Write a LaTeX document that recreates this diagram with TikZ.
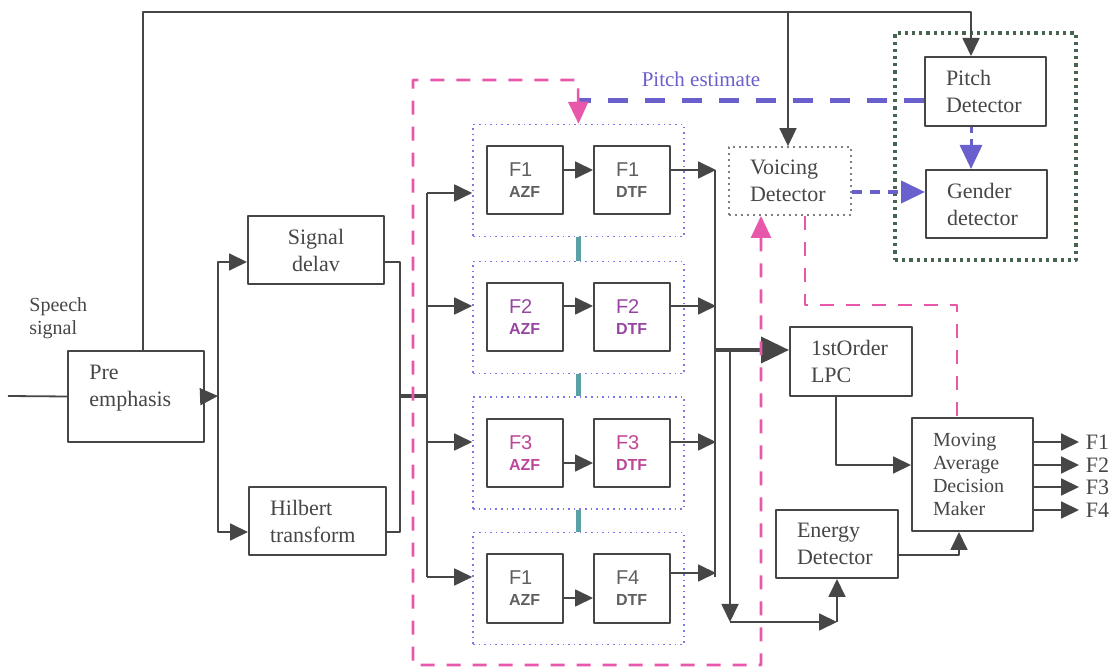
\documentclass[tikz,border=0pt]{standalone}
\usepackage{fontspec}
\setmainfont{Liberation Serif}
\setsansfont{Liberation Sans}
\usetikzlibrary{arrows.meta}
\definecolor{inkgray}{RGB}{70,70,70}
\definecolor{labgray}{RGB}{95,95,95}
\definecolor{pitchblue}{RGB}{105,95,205}
\definecolor{dotblue}{RGB}{120,120,235}
\definecolor{pinkdash}{RGB}{232,88,170}
\definecolor{tealbar}{RGB}{90,160,165}
\definecolor{boxgreen}{RGB}{70,100,80}
\definecolor{fpurple}{RGB}{150,70,160}
\definecolor{fpink}{RGB}{190,70,150}
\tikzset{
    flow/.style={-{Triangle[length=9pt,width=8.5pt]}},
    bigflow/.style={-{Triangle[length=14pt,width=13pt]}},
    wire/.style={draw=inkgray, line width=0.9pt}
}

\begin{document}
\begin{tikzpicture}[
        x=0.5pt, y=-0.5pt, line join=round,
        box/.style 2 args={draw=inkgray, line width=1pt, text width=#1, minimum height=#2,
            inner xsep=10.5pt, inner ysep=0pt, align=left, text=inkgray,
            font=\fontsize{11}{13.5}\selectfont},
        filt/.style={draw=inkgray, line width=1pt, text width=16pt, minimum height=34pt,
            inner xsep=11pt, inner ysep=0pt, align=left, font=\sffamily\fontsize{10}{10.5}\selectfont},
        band/.style={draw=dotblue, dotted, line width=0.8pt, minimum width=105.5pt,
            minimum height=56pt, inner sep=0pt},
        pitchline/.style={draw=pitchblue, line width=2.5pt, dash pattern=on 10pt off 8.5pt},
        pinkline/.style={draw=pinkdash, line width=1.3pt, dash pattern=on 7pt off 6pt},
        bluetip/.style={-{Triangle[length=12pt,width=11pt]}},
        pinktip/.style={{Triangle[length=11pt,width=10pt]}-{Triangle[length=11pt,width=10pt]}}
    ]
    \useasboundingbox (0,0) rectangle (1110,668);

    % input stage
    \node[anchor=west, inner sep=0pt, align=left, text=inkgray,
        font=\fontsize{10}{11.5}\selectfont] (speech) at (29,318) {Speech\\signal};
    \node[box={47pt}{45.5pt}] (pre) at (136,396.5) {};
    \node[anchor=west, inner sep=0pt, align=left, text=inkgray,
        font=\fontsize{11}{13.5}\selectfont] (pretxt) at (89,388) {Pre\\emphasis};
    \node[box={47pt}{34pt}, align=center] (sdel) at (316,250) {Signal\\delav};
    \node[box={47.5pt}{34pt}] (hilb) at (317.5,521) {Hilbert\\transform};

    \coordinate (inpt) at (8,396);
    \coordinate (fork) at (218,396);
    \coordinate (join) at (400,396);
    \coordinate (bus) at (428,396);
    \draw[wire] (inpt) -- (pre.west);
    \draw[wire, flow] (pre.east) -- (fork);
    \draw[wire, flow] (fork) |- ([yshift=-6pt]sdel.west);
    \draw[wire, flow] (fork) |- ([yshift=-5.5pt]hilb.west);
    \draw[wire] ([yshift=-6pt]sdel.east) -| (join);
    \draw[wire] ([yshift=-5.5pt]hilb.east) -| (join);
    \draw[wire, line width=2pt] (join) -- (bus);

    % filter bank
    \foreach \r/\yc/\na/\nd/\col/\sb/\sa/\so in {
            1/180.5/F1/F1/labgray/-6.25/5.25/5.25,
            2/317.5/F2/F2/fpurple/5.75/5.75/5.75,
            3/453/F3/F3/fpink/5.5/-5/5.5,
            4/588.5/F1/F4/labgray/5.75/-4.75/7.75} {
        \node[band] (band\r) at (578.5,\yc) {};
        \node[filt, text=\col] (azf\r) at (525,\yc) {\na\\{\fontsize{8}{9}\selectfont\bfseries AZF}};
        \node[filt, text=\col] (dtf\r) at (632,\yc) {\nd\\{\fontsize{8}{9}\selectfont\bfseries DTF}};
        \draw[wire, flow] ([yshift=\sb pt, xshift=-22.5pt]band\r.west) -- ([yshift=\sb pt]band\r.west);
        \draw[wire, flow] ([yshift=\sa pt]azf\r.east) -- ([yshift=\sa pt]dtf\r.west);
        \draw[wire, flow] ([yshift=\so pt]dtf\r.east) -- ++(45,0);
    }
    \draw[wire] ([yshift=-6.25pt, xshift=-22.5pt]band1.west) -- ([yshift=5.75pt, xshift=-22.5pt]band4.west);
    \foreach \a/\b in {1/2, 2/3, 3/4}
        \draw[tealbar, line width=2.5pt] (band\a.south) -- (band\b.north);

    % right part
    \node[box={40pt}{34pt}, draw=gray, dotted, line width=0.9pt] (voice) at (790,181) {Voicing\\Detector};
    \node[box={39.5pt}{34.5pt}] (pitch) at (985.5,91.5) {Pitch\\Detector};
    \node[box={39.5pt}{34pt}] (gend) at (986.5,204) {Gender\\detector};
    \node[draw=boxgreen, dotted, line width=1.6pt, minimum width=90.5pt, minimum height=113.5pt,
        inner sep=0pt] (gbox) at (985.5,146.5) {};
    \node[box={40pt}{34.5pt}] (lpc) at (851,361.5) {1stOrder\\LPC};
    \node[box={40pt}{34pt}] (energy) at (837,544) {Energy\\Detector};
    \node[box={39.5pt}{56.5pt}, font=\fontsize{10}{11.5}\selectfont] (mavg) at (972.5,474.5)
        {Moving\\Average\\Decision\\Maker};

    \coordinate (coltop) at (715,170);
    \coordinate (colbot) at (715,577);
    \coordinate (tap) at (715,350);
    \coordinate (drop) at (730,350);
    \coordinate (low) at (730,622);
    \coordinate (corner) at (837,622);
    \draw[wire] (coltop) -- (colbot);
    \draw[wire, line width=2pt, bigflow] (tap) -- ([yshift=5.75pt]lpc.west);
    \draw[wire, flow] (drop) -- (low);
    \draw[wire, flow] (low) -- (corner);
    \draw[wire, flow] (corner) -- (energy.south);
    \draw[wire, flow] ([xshift=-7.5pt]lpc.south) |- ([yshift=4.75pt]mavg.west);
    \draw[wire, flow] ([yshift=-5.5pt]energy.east) -| ([xshift=-6.75pt]mavg.south);
    \foreach \k/\s in {1/16.25, 2/4.75, 3/-6.25, 4/-17.75}
        \draw[wire, flow] ([yshift=\s pt]mavg.east) -- ++(45,0)
            node[anchor=west, inner sep=3pt, text=inkgray, font=\fontsize{11}{13}\selectfont] (out\k) {F\k};

    % top feed
    \coordinate (topR) at (971,12);
    \coordinate (topV) at (788,12);
    \draw[wire, flow] ([xshift=3.5pt]pre.north) |- (topR) -- ([xshift=-7.25pt]pitch.north);
    \draw[wire, flow] (topV) -- ([xshift=-1pt]voice.north);

    % pitch estimate and control paths
    \coordinate (estim) at (578,101);
    \draw[pitchline] ([yshift=-4.75pt]pitch.west) -- (estim);
    \node[text=pitchblue, font=\fontsize{10.5}{12}\selectfont, inner sep=0pt] (estlbl) at (701,79) {Pitch estimate};
    \draw[pitchline, line width=1.5pt, dash pattern=on 3pt off 3pt, bluetip]
        ([xshift=-7.25pt]pitch.south) -- ([xshift=-7.75pt]gend.north);
    \draw[pitchline, line width=2pt, dash pattern=on 5pt off 4pt, bluetip]
        ([yshift=-5.5pt]voice.east) -- ([yshift=6pt]gend.west);

    \coordinate (pk1) at (578,80);
    \coordinate (pk2) at (413,80);
    \coordinate (pk3) at (413,665);
    \coordinate (pk4) at (761,665);
    \draw[pinkline, pinktip] (band1.north) -- (pk1) -- (pk2) -- (pk3) -- (pk4)
        -- ([xshift=-14.5pt]voice.south);
    \coordinate (pkbend) at (957,305);
    \draw[pinkline] ([xshift=7.5pt]voice.south) |- (pkbend) -- ([xshift=-7.75pt]mavg.north);
\end{tikzpicture}
\end{document}
